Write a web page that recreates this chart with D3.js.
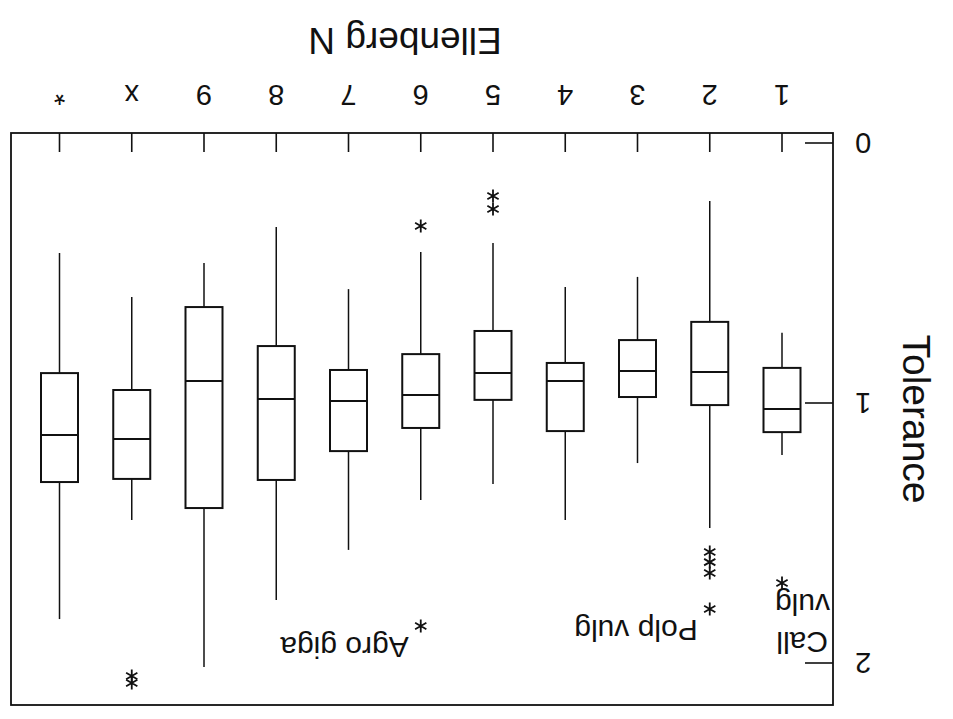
<!DOCTYPE html>
<html>
<head>
<meta charset="utf-8">
<script src="https://cdn.jsdelivr.net/npm/d3@7"></script>
<style>
  body { margin: 0; background: #fff; }
  text { font-family: "Liberation Sans", Arial, sans-serif; fill: #111; }
</style>
</head>
<body>
<div class="svg-container"></div>
<script>
// Ellenberg N categories and tolerance box stats
const categories  = ["1", "2", "3", "4", "5", "6", "7", "8", "9", "x", "*"];
const whiskerLow  = [0.73, 0.223, 0.515, 0.554, 0.385, 0.419, 0.562, 0.323, 0.462, 0.592, 0.423];
const q1          = [0.865, 0.688, 0.758, 0.846, 0.723, 0.812, 0.873, 0.781, 0.631, 0.95, 0.885];
const medians     = [1.023, 0.881, 0.877, 0.915, 0.885, 0.969, 0.992, 0.985, 0.915, 1.138, 1.123];
const q3          = [1.112, 1.008, 0.977, 1.108, 0.988, 1.096, 1.185, 1.296, 1.404, 1.292, 1.304];
const whiskerHigh = [1.20, 1.481, 1.231, 1.45, 1.312, 1.373, 1.565, 1.758, 2.015, 1.45, 1.831];

// outliers: category, value, optional species label
const outlierCats   = ["1", "2", "2", "2", "2", "5", "5", "6", "6", "x", "x"];
const outlierValues = [1.692, 1.573, 1.612, 1.654, 1.792, 0.204, 0.254, 0.319, 1.858, 2.05, 2.077];
const outlierLabels = ["Call vulg", "", "", "", "Polp vulg", "", "", "", "Agro giga", "", ""];

const yTicks = [0, 1, 2];

const W = 953, H = 719;
const margin = {top: 14, right: 11, bottom: 133, left: 120};

const svg = d3.select('.svg-container')
    .append('svg')
    .attr('width', W)
    .attr('height', H);

svg.append('rect').attr('width', W).attr('height', H).attr('fill', '#fff');

// the scanned page is upside down, so draw it normally and turn it over
const g = svg.append('g')
    .attr('transform', `rotate(180, ${W / 2}, ${H / 2})`);

const x = d3.scalePoint()
    .domain(categories)
    .range([171, 893.5]);

const y = d3.scaleLinear()
    .domain([0, 2])
    .range([576, 56]);

const plotBottom = H - margin.bottom;
const plotRight = W - margin.right;
const boxW = 37;

// frame
g.append('rect')
    .attr('x', margin.left)
    .attr('y', margin.top)
    .attr('width', plotRight - margin.left)
    .attr('height', plotBottom - margin.top)
    .attr('fill', 'none')
    .attr('stroke', '#111')
    .attr('stroke-width', 1.8);

// y axis ticks pointing inward
const yAxis = g.append('g').attr('class', 'axis axis--y');
yAxis.selectAll('line')
    .data(yTicks)
    .enter().append('line')
      .attr('x1', margin.left)
      .attr('x2', margin.left + 28)
      .attr('y1', d => y(d))
      .attr('y2', d => y(d))
      .attr('stroke', '#111')
      .attr('stroke-width', 1.6);
yAxis.selectAll('text')
    .data(yTicks)
    .enter().append('text')
      .attr('x', margin.left - 22)
      .attr('y', d => y(d))
      .attr('dy', '0.36em')
      .attr('text-anchor', 'end')
      .style('font-size', '29px')
      .text(d => d);

g.append('text')
    .attr('transform', `translate(50, ${(margin.top + plotBottom) / 2}) rotate(-90)`)
    .attr('text-anchor', 'middle')
    .style('font-size', '39px')
    .text('Tolerance');

// x axis ticks pointing inward from the bottom
const xAxis = g.append('g').attr('class', 'axis axis--x');
xAxis.selectAll('line')
    .data(categories)
    .enter().append('line')
      .attr('x1', d => x(d))
      .attr('x2', d => x(d))
      .attr('y1', plotBottom)
      .attr('y2', plotBottom - 19)
      .attr('stroke', '#111')
      .attr('stroke-width', 1.6);
xAxis.selectAll('text')
    .data(categories)
    .enter().append('text')
      .attr('x', d => x(d))
      .attr('y', 634)
      .attr('text-anchor', 'middle')
      .style('font-size', '29px')
      .text(d => d);

g.append('text')
    .attr('x', 548)
    .attr('y', 691)
    .attr('text-anchor', 'middle')
    .style('font-size', '37px')
    .text('Ellenberg N');

// boxes
const boxes = categories.map((c, i) => ({
  cat: c, lo: whiskerLow[i], q1: q1[i], med: medians[i], q3: q3[i], hi: whiskerHigh[i]
}));

const bx = g.selectAll('.box')
    .data(boxes)
    .enter().append('g')
      .attr('class', 'box');

bx.append('line')
    .attr('x1', d => x(d.cat)).attr('x2', d => x(d.cat))
    .attr('y1', d => y(d.lo)).attr('y2', d => y(d.q1))
    .attr('stroke', '#111').attr('stroke-width', 1.5);

bx.append('line')
    .attr('x1', d => x(d.cat)).attr('x2', d => x(d.cat))
    .attr('y1', d => y(d.q3)).attr('y2', d => y(d.hi))
    .attr('stroke', '#111').attr('stroke-width', 1.5);

bx.append('rect')
    .attr('x', d => x(d.cat) - boxW / 2)
    .attr('y', d => y(d.q3))
    .attr('width', boxW)
    .attr('height', d => y(d.q1) - y(d.q3))
    .attr('fill', 'none')
    .attr('stroke', '#111')
    .attr('stroke-width', 2);

bx.append('line')
    .attr('x1', d => x(d.cat) - boxW / 2).attr('x2', d => x(d.cat) + boxW / 2)
    .attr('y1', d => y(d.med)).attr('y2', d => y(d.med))
    .attr('stroke', '#111').attr('stroke-width', 2);

// outliers drawn as asterisks
const outliers = outlierCats.map((c, i) => ({cat: c, v: outlierValues[i], label: outlierLabels[i]}));

function asterisk(r) {
  let p = '';
  [90, 30, 150].forEach(a => {
    const dx = r * Math.cos(a * Math.PI / 180), dy = r * Math.sin(a * Math.PI / 180);
    p += `M${-dx},${-dy}L${dx},${dy}`;
  });
  return p;
}

g.selectAll('.outlier')
    .data(outliers)
    .enter().append('path')
      .attr('class', 'outlier')
      .attr('transform', d => `translate(${x(d.cat)}, ${y(d.v)})`)
      .attr('d', asterisk(6.5))
      .attr('stroke', '#111')
      .attr('stroke-width', 1.8);

// species labels
outliers.filter(d => d.label).forEach(d => {
  const px = x(d.cat), py = y(d.v);
  if (px - margin.left < 60) {
    // too close to the axis: wrapped onto two lines beside the axis
    const words = d.label.split(' ');
    g.append('text')
        .attr('x', margin.left + 5).attr('y', py - 49)
        .style('font-size', '30px').text(words[0]);
    g.append('text')
        .attr('x', margin.left + 3).attr('y', py - 11)
        .style('font-size', '30px').text(words[1]);
  } else {
    g.append('text')
        .attr('x', px + 12)
        .attr('y', py - 11)
        .style('font-size', '30px')
        .text(d.label);
  }
});
</script>
</body>
</html>
